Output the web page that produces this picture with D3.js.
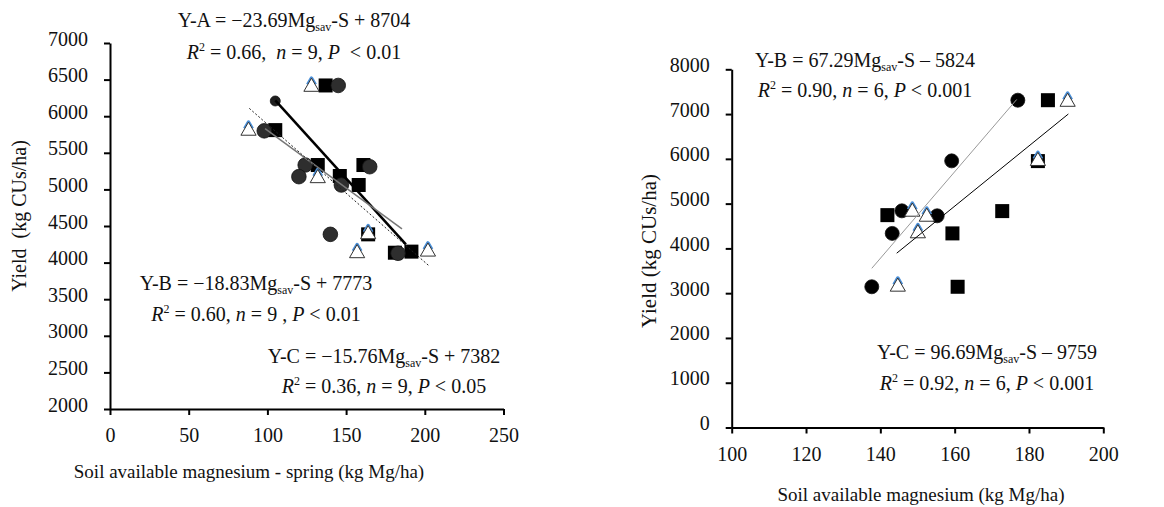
<!DOCTYPE html>
<html>
<head>
<meta charset="utf-8">
<script src="https://cdn.jsdelivr.net/npm/d3@7"></script>
<style>
  body { margin: 0; background: #fff; }
  text { font-family: "Liberation Serif", "Times New Roman", serif; white-space: pre; fill: #111; }
</style>
</head>
<body>
<svg id="chart" width="1164" height="507"></svg>
<script>
// left panel: spring soil Mg vs yield
const springXTicks = [0, 50, 100, 150, 200, 250];
const springYTicks = [2000, 2500, 3000, 3500, 4000, 4500, 5000, 5500, 6000, 6500, 7000];
const springCircles = [[98, 5800], [124, 5333], [120, 5174], [147, 5060], [165, 5310], [140, 4386], [145, 6420], [183, 4127]];
const springCircleSmall = [[105, 6208]];
const springSquares = [[105, 5810], [132, 5333], [146, 5183], [158, 5060], [161, 5333], [164, 4386], [137, 6420], [181, 4135], [191.5, 4150]];
const springTriangles = [[88, 5800], [132, 5152], [164, 4386], [157, 4127], [128, 6400], [202, 4149]];
const springLineA = [[105, 6217], [188, 4250]];
const springLineB = [[88.5, 6107], [203, 3950]];
const springLineC = [[98.5, 5830], [185.5, 4460]];

// right panel: soil Mg vs yield
const mgXTicks = [100, 120, 140, 160, 180, 200];
const mgYTicks = [0, 1000, 2000, 3000, 4000, 5000, 6000, 7000, 8000];
const mgCircles = [[177, 7310], [159.2, 5955], [145.8, 4839], [155.3, 4728], [143.2, 4335], [137.7, 3143]];
const mgSquares = [[185.1, 7310], [182.4, 5950], [172.8, 4833], [141.9, 4743], [159.4, 4335], [160.8, 3143]];
const mgTriangles = [[190.4, 7272], [182.4, 5950], [148.6, 4817], [152.5, 4705], [150.1, 4335], [144.7, 3143]];
const mgLineB = [[144.4, 3893], [190.6, 7002]];
const mgLineC = [[137.7, 3555], [176.7, 7326]];

// equation labels
const springEq = [
  { name: 'Y-A', coef: '\u221223.69', rest: ' + 8704', r2: ' = 0.66,  ', n: ' = 9, ', p: '  < 0.01' },
  { name: 'Y-B', coef: '\u221218.83', rest: ' + 7773', r2: ' = 0.60, ', n: ' = 9 , ', p: ' < 0.01' },
  { name: 'Y-C', coef: '\u221215.76', rest: ' + 7382', r2: ' = 0.36, ', n: ' = 9, ', p: ' < 0.05' }
];
const mgEq = [
  { name: 'Y-B', coef: '67.29', rest: ' \u2013 5824', r2: ' = 0.90, ', n: ' = 6, ', p: ' < 0.001' },
  { name: 'Y-C', coef: '96.69', rest: ' \u2013 9759', r2: ' = 0.92, ', n: ' = 6, ', p: ' < 0.001' }
];

let svg = d3.select('#chart');

let xL = d3.scaleLinear().domain([0, 250]).range([110, 503.5]);
let yL = d3.scaleLinear().domain([2000, 7000]).range([409, 43]);
let xR = d3.scaleLinear().domain([100, 200]).range([731.7, 1103.3]);
let yR = d3.scaleLinear().domain([0, 8000]).range([427.5, 69.3]);

let drawAxes = (x, y, xTicks, yTicks) => {
  let gx = svg.append('g')
    .attr('transform', `translate(0,${y.range()[0]})`)
    .call(d3.axisBottom(x).tickValues(xTicks).tickSize(6).tickSizeOuter(0).tickFormat(d3.format('d')));
  gx.selectAll('text').attr('y', 33).attr('dy', null);

  let gy = svg.append('g')
    .attr('transform', `translate(${x.range()[0]},0)`)
    .call(d3.axisLeft(y).tickValues(yTicks).tickSize(6).tickPadding(16).tickSizeOuter(0).tickFormat(d3.format('d')));
  gy.selectAll('text').attr('dy', 2);

  [gx, gy].forEach(g => {
    g.attr('font-size', 20).attr('font-family', null);
    g.select('.domain').attr('stroke', '#000').attr('stroke-width', 2);
    g.selectAll('line').attr('stroke', '#000').attr('stroke-width', 2);
    g.selectAll('text').attr('fill', '#111');
  });
}

let drawSquares = (data, x, y) => {
  svg.append('g').selectAll('rect')
    .data(data)
    .enter()
    .append('rect')
    .attr('x', d => x(d[0]) - 7)
    .attr('y', d => y(d[1]) - 7)
    .attr('width', 14)
    .attr('height', 14)
    .attr('fill', '#000');
}

let drawCircles = (data, x, y, r, color) => {
  svg.append('g').selectAll('circle')
    .data(data)
    .enter()
    .append('circle')
    .attr('cx', d => x(d[0]))
    .attr('cy', d => y(d[1]))
    .attr('r', r)
    .attr('fill', color)
    .attr('stroke', '#111')
    .attr('stroke-width', 0.8);
}

let drawTriangles = (data, x, y) => {
  let tri = d3.symbol().type(d3.symbolTriangle).size(100);
  // upper half of both sides, for the blue edge shading
  let h = Math.sqrt(100 / (Math.sqrt(3) * 3));
  let chevron = `M${-Math.sqrt(3) * h / 2},${h / 2 - h}L0,${-2 * h}L${Math.sqrt(3) * h / 2},${h / 2 - h}`;
  let g = svg.append('g');
  g.selectAll('path.glow')
    .data(data)
    .enter()
    .append('path')
    .attr('class', 'glow')
    .attr('d', chevron)
    .attr('transform', d => `translate(${x(d[0])},${y(d[1])})`)
    .attr('fill', 'none')
    .attr('stroke', '#4a8fd8')
    .attr('stroke-width', 3.5)
    .attr('stroke-linejoin', 'round');
  g.selectAll('path.tri')
    .data(data)
    .enter()
    .append('path')
    .attr('class', 'tri')
    .attr('d', tri)
    .attr('transform', d => `translate(${x(d[0])},${y(d[1])})`)
    .attr('fill', '#fff')
    .attr('stroke', '#333')
    .attr('stroke-width', 1);
}

let drawLine = (data, x, y, color, width, dash) => {
  svg.append('path')
    .datum(data)
    .attr('d', d3.line().x(d => x(d[0])).y(d => y(d[1])))
    .attr('fill', 'none')
    .attr('stroke', color)
    .attr('stroke-width', width)
    .attr('stroke-dasharray', dash);
}

let drawEquation = (e, cx, y1, y2) => {
  let t = svg.append('text').attr('x', cx).attr('y', y1).attr('text-anchor', 'middle').attr('font-size', 20);
  t.append('tspan').text(`${e.name} = ${e.coef}Mg`);
  t.append('tspan').attr('dy', 4).attr('font-size', 12).text('sav');
  t.append('tspan').attr('dy', -4).text(`-S${e.rest}`);

  let s = svg.append('text').attr('x', cx).attr('y', y2).attr('text-anchor', 'middle').attr('font-size', 20);
  s.append('tspan').attr('font-style', 'italic').text('R');
  s.append('tspan').attr('dy', -8).attr('font-size', 12).text('2');
  s.append('tspan').attr('dy', 8).text(e.r2);
  s.append('tspan').attr('font-style', 'italic').text('n');
  s.append('tspan').text(e.n);
  s.append('tspan').attr('font-style', 'italic').text('P');
  s.append('tspan').text(e.p);
}

// left panel
drawAxes(xL, yL, springXTicks, springYTicks);
drawSquares(springSquares, xL, yL);
drawCircles(springCircles, xL, yL, 7.3, '#2e2e2e');
drawCircles(springCircleSmall, xL, yL, 5, '#1e1e1e');
drawTriangles(springTriangles, xL, yL);
drawLine(springLineA, xL, yL, '#000', 2.5, null);
drawLine(springLineC, xL, yL, '#777', 1.5, null);
drawLine(springLineB, xL, yL, '#222', 1, '2,2');

drawEquation(springEq[0], 294, 27, 59);
drawEquation(springEq[1], 256, 290, 321);
drawEquation(springEq[2], 384, 363, 393);

svg.append('text').attr('x', 249).attr('y', 478).attr('text-anchor', 'middle').attr('font-size', 19)
  .text('Soil available magnesium - spring (kg Mg/ha)');
svg.append('text').attr('transform', 'translate(25.5,216) rotate(-90)').attr('text-anchor', 'middle').attr('font-size', 20)
  .text('Yield  (kg CUs/ha)');

// right panel
drawAxes(xR, yR, mgXTicks, mgYTicks);
drawSquares(mgSquares, xR, yR);
drawCircles(mgCircles, xR, yR, 7, '#000');
drawTriangles(mgTriangles, xR, yR);
drawLine(mgLineC, xR, yR, '#999', 1, null);
drawLine(mgLineB, xR, yR, '#000', 1, null);

drawEquation(mgEq[0], 865, 67, 97);
drawEquation(mgEq[1], 987, 359, 390);

svg.append('text').attr('x', 921).attr('y', 501).attr('text-anchor', 'middle').attr('font-size', 19)
  .text('Soil available magnesium (kg Mg/ha)');
svg.append('text').attr('transform', 'translate(656,251) rotate(-90)').attr('text-anchor', 'middle').attr('font-size', 21)
  .text('Yield (kg CUs/ha)');
</script>
</body>
</html>
